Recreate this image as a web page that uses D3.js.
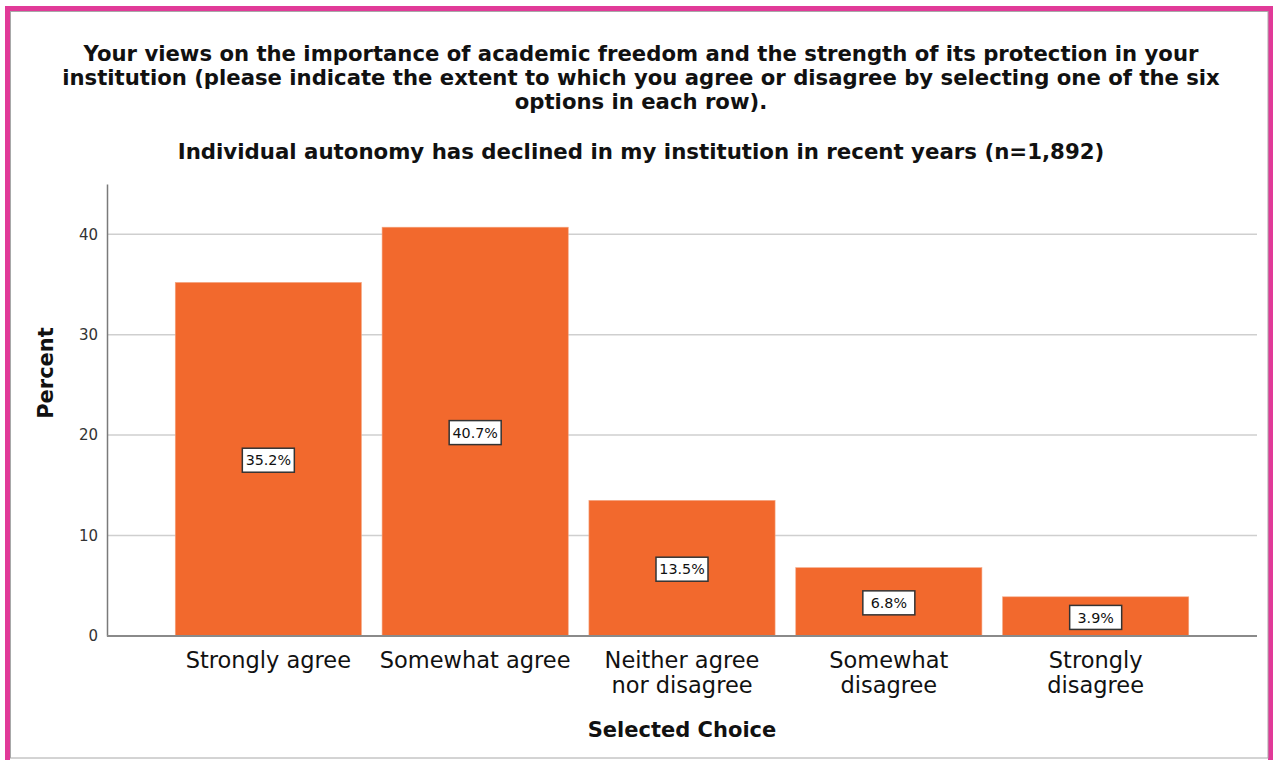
<!DOCTYPE html>
<html>
<head>
<meta charset="utf-8">
<script src="https://cdn.jsdelivr.net/npm/d3@7"></script>
<style>
  html, body { margin: 0; padding: 0; background: #fff; }
  svg { display: block; font-family: "DejaVu Sans", Verdana, sans-serif; }
</style>
</head>
<body>
<svg id="chart" width="1273" height="760"></svg>
<script>
// Survey responses: percentage of respondents per choice
const categories = ["Strongly agree", "Somewhat agree", "Neither agree nor disagree", "Somewhat disagree", "Strongly disagree"];
const categoryLines = [["Strongly agree"], ["Somewhat agree"], ["Neither agree", "nor disagree"], ["Somewhat", "disagree"], ["Strongly", "disagree"]];
const percents = [35.2, 40.7, 13.5, 6.8, 3.9];
const yTicks = [0, 10, 20, 30, 40];

const titleLines = [
  "Your views on the importance of academic freedom and the strength of its protection in your",
  "institution (please indicate the extent to which you agree or disagree by selecting one of the six",
  "options in each row)."
];
const subtitle = "Individual autonomy has declined in my institution in recent years (n=1,892)";
const yLabel = "Percent";
const xLabel = "Selected Choice";

const svg = d3.select("#chart");

// outer frame: pink band with a thin grey inner edge
svg.append("rect").attr("x", 7.5).attr("y", 8.5).attr("width", 1263).attr("height", 760)
  .attr("fill", "none").attr("stroke", "#e13a98").attr("stroke-width", 5);
svg.append("rect").attr("x", 10.5).attr("y", 11.5).attr("width", 1257.5).attr("height", 746.5)
  .attr("fill", "#fff").attr("stroke", "#a8a8a8").attr("stroke-width", 1);

const plot = { left: 107, right: 1257, top: 184, bottom: 636 };

const x = d3.scaleBand().domain(categories).range([plot.left, plot.right])
  .paddingInner(0.1).paddingOuter(0.33);
const y = d3.scaleLinear().domain([0, 45]).range([plot.bottom, plot.top]);

// titles
const tg = svg.append("g").attr("font-weight", "bold").attr("fill", "#111").attr("text-anchor", "middle");
tg.selectAll("text.title").data(titleLines).join("text").attr("class", "title")
  .attr("x", 641).attr("y", (d, i) => 61 + i * 24)
  .attr("font-size", 21.2).text(d => d);
tg.append("text").attr("x", 641).attr("y", 159).attr("font-size", 21.3).text(subtitle);

// gridlines
svg.append("g").selectAll("line").data(yTicks.filter(d => d > 0)).join("line")
  .attr("x1", plot.left).attr("x2", plot.right)
  .attr("y1", d => y(d)).attr("y2", d => y(d))
  .attr("stroke", "#cfcfcf").attr("stroke-width", 1.5);

// y axis
const yAxis = svg.append("g").attr("transform", `translate(${plot.left},0)`)
  .call(d3.axisLeft(y).tickValues(yTicks).tickSize(0).tickPadding(9).tickFormat(d3.format("d")));
yAxis.select(".domain").attr("stroke", "#7a7a7a").attr("stroke-width", 1.5);
yAxis.selectAll("text").attr("font-size", 15).attr("fill", "#333").attr("font-family", "DejaVu Sans, sans-serif");

// bars
svg.append("g").selectAll("rect").data(percents).join("rect")
  .attr("x", (d, i) => x(categories[i]))
  .attr("y", d => y(d))
  .attr("width", x.bandwidth())
  .attr("height", d => y(0) - y(d))
  .attr("fill", "#f2692d")
  .attr("stroke", "#f4a580").attr("stroke-width", 0.6);

// x axis baseline
svg.append("line").attr("x1", plot.left).attr("x2", plot.right)
  .attr("y1", plot.bottom).attr("y2", plot.bottom)
  .attr("stroke", "#8a8a8a").attr("stroke-width", 2);

// value labels in white boxes at mid-bar
const lab = svg.append("g").selectAll("g").data(percents).join("g")
  .attr("transform", (d, i) => `translate(${x(categories[i]) + x.bandwidth() / 2},${(y(d) + y(0)) / 2 + 1})`);
lab.append("rect").attr("x", -26).attr("y", -12).attr("width", 52).attr("height", 24)
  .attr("fill", "#fff").attr("stroke", "#333").attr("stroke-width", 1.5);
lab.append("text").attr("text-anchor", "middle").attr("dy", "0.36em")
  .attr("font-size", 14.3).attr("fill", "#111")
  .text(d => d.toFixed(1) + "%");

// category labels
const cl = svg.append("g").selectAll("text").data(categoryLines).join("text")
  .attr("text-anchor", "middle").attr("font-size", 22.5).attr("fill", "#111")
  .attr("x", (d, i) => x(categories[i]) + x.bandwidth() / 2)
  .attr("y", 668);
cl.selectAll("tspan").data(d => d).join("tspan")
  .attr("x", function () { return d3.select(this.parentNode).attr("x"); })
  .attr("dy", (d, i) => i === 0 ? 0 : 24.5)
  .text(d => d);

// axis titles
svg.append("text").attr("text-anchor", "middle").attr("font-weight", "bold").attr("font-size", 21)
  .attr("fill", "#111").attr("x", (plot.left + plot.right) / 2).attr("y", 737).text(xLabel);
svg.append("text").attr("text-anchor", "middle").attr("font-weight", "bold").attr("font-size", 21)
  .attr("fill", "#111").attr("transform", `translate(53,373) rotate(-90)`).text(yLabel);
</script>
</body>
</html>
